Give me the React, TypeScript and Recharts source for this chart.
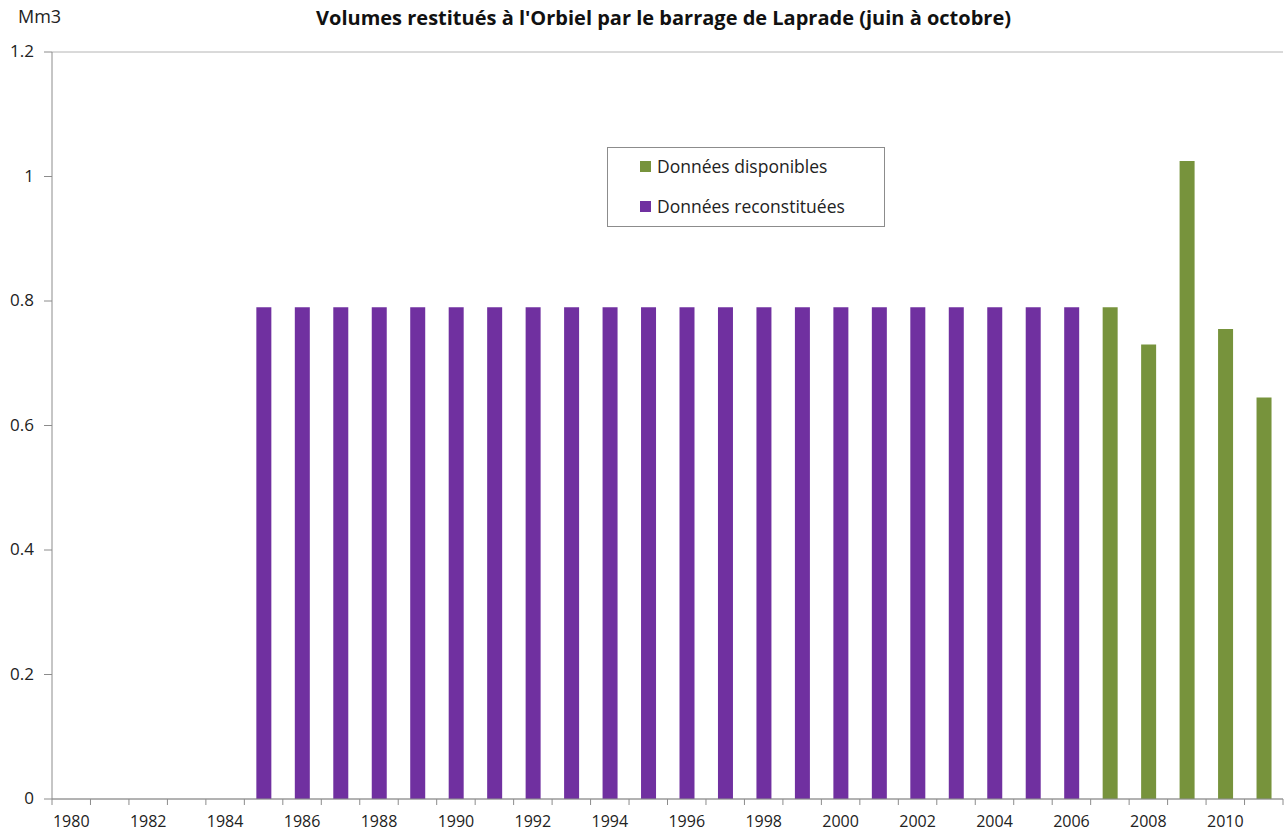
import React from "react";
import {
  BarChart,
  Bar,
  XAxis,
  YAxis,
  CartesianGrid,
} from "recharts";

const YEARS = Array.from({ length: 32 }, (_, i) => 1980 + i);

// values (Mm3), null = no bar
const RECONSTITUEES: (number | null)[] = [
  null, null, null, null, null,
  0.79, 0.79, 0.79, 0.79, 0.79, 0.79, 0.79, 0.79, 0.79, 0.79, 0.79,
  0.79, 0.79, 0.79, 0.79, 0.79, 0.79, 0.79, 0.79, 0.79, 0.79, 0.79,
  null, null, null, null, null,
];
const DISPONIBLES: (number | null)[] = [
  null, null, null, null, null, null, null, null, null, null, null,
  null, null, null, null, null, null, null, null, null, null, null,
  null, null, null, null, null,
  0.79, 0.73, 1.025, 0.755, 0.645,
];
const Y_TICKS = [0, 0.2, 0.4, 0.6, 0.8, 1, 1.2];

const W = 1287;
const H = 836;
const LEFT = 52;
const RIGHT = 4;
const TOP = 52;
const BOTTOM = 37;
const BAND = (W - LEFT - RIGHT) / YEARS.length;

const FONT = "'Open Sans', 'Noto Sans', sans-serif";
const GREEN = "#77933c";
const PURPLE = "#7030a0";
const AXIS = "#8c8c8c";
const GRID = "#b4b4b4";
const TEXT = "#222";

const data = YEARS.map((y, i) => ({
  year: String(y),
  reconstituees: RECONSTITUEES[i],
  disponibles: DISPONIBLES[i],
}));

function YearTick(props: any) {
  const { x, y, payload, index } = props;
  const left = x - BAND / 2;
  const yr = Number(payload.value);
  return (
    <g>
      <line x1={left} x2={left} y1={y - 8} y2={y - 2} stroke={AXIS} />
      {index === YEARS.length - 1 && (
        <line x1={left + BAND} x2={left + BAND} y1={y - 8} y2={y - 2} stroke={AXIS} />
      )}
      {yr % 2 === 0 && (
        <text x={x} y={y + 20} textAnchor="middle" fill={TEXT} fontSize={16} fontFamily={FONT}>
          {payload.value}
        </text>
      )}
    </g>
  );
}

function ValueTick(props: any) {
  const { x, y, payload } = props;
  return (
    <text x={x - 8} y={y} dy={5} textAnchor="end" fill={TEXT} fontSize={17} fontFamily={FONT}>
      {String(payload.value)}
    </text>
  );
}

export default function App() {
  return (
    <div style={{ position: "absolute", left: 0, top: 0, width: W, height: H, background: "#fff" }}>
      <div style={{ position: "absolute", left: 18, top: 4, fontFamily: FONT, fontSize: 18, color: TEXT }}>Mm3</div>
      <div
        style={{
          position: "absolute",
          left: 0,
          top: 4,
          width: 1327,
          textAlign: "center",
          fontFamily: FONT,
          fontWeight: 700,
          fontSize: 20,
          color: "#111",
        }}
      >
        Volumes restitués à l'Orbiel par le barrage de Laprade (juin à octobre)
      </div>
      <BarChart
        width={W}
        height={H}
        data={data}
        margin={{ top: TOP, right: RIGHT, bottom: 0, left: 0 }}
        barCategoryGap={0}
      >
        <CartesianGrid vertical={false} stroke={GRID} />
        <XAxis
          dataKey="year"
          interval={0}
          height={BOTTOM}
          tickLine={false}
          axisLine={{ stroke: AXIS }}
          tick={<YearTick />}
        />
        <YAxis
          yAxisId="l"
          width={LEFT}
          domain={[0, 1.2]}
          ticks={Y_TICKS}
          axisLine={{ stroke: AXIS }}
          tickLine={{ stroke: AXIS }}
          tickSize={8}
          tick={<ValueTick />}
        />
        <YAxis
          yAxisId="r"
          orientation="right"
          width={0}
          domain={[0, 1.2]}
          tick={false}
          tickLine={false}
          axisLine={{ stroke: AXIS }}
        />
        <Bar yAxisId="l" dataKey="reconstituees" stackId="s" fill={PURPLE} barSize={15} isAnimationActive={false} />
        <Bar yAxisId="l" dataKey="disponibles" stackId="s" fill={GREEN} barSize={15} isAnimationActive={false} />
      </BarChart>
      <div
        style={{
          position: "absolute",
          left: 607,
          top: 147,
          width: 278,
          height: 80,
          border: `1px solid ${AXIS}`,
          background: "#fff",
          fontFamily: FONT,
          fontSize: 17.5,
          color: TEXT,
          boxSizing: "border-box",
        }}
      >
        {[
          { label: "Données disponibles", color: GREEN, top: 6 },
          { label: "Données reconstituées", color: PURPLE, top: 46 },
        ].map((e) => (
          <div key={e.label} style={{ position: "absolute", left: 32, top: e.top, display: "flex", alignItems: "center" }}>
            <span style={{ width: 11, height: 11, background: e.color, display: "inline-block", marginRight: 6 }} />
            <span>{e.label}</span>
          </div>
        ))}
      </div>
    </div>
  );
}
